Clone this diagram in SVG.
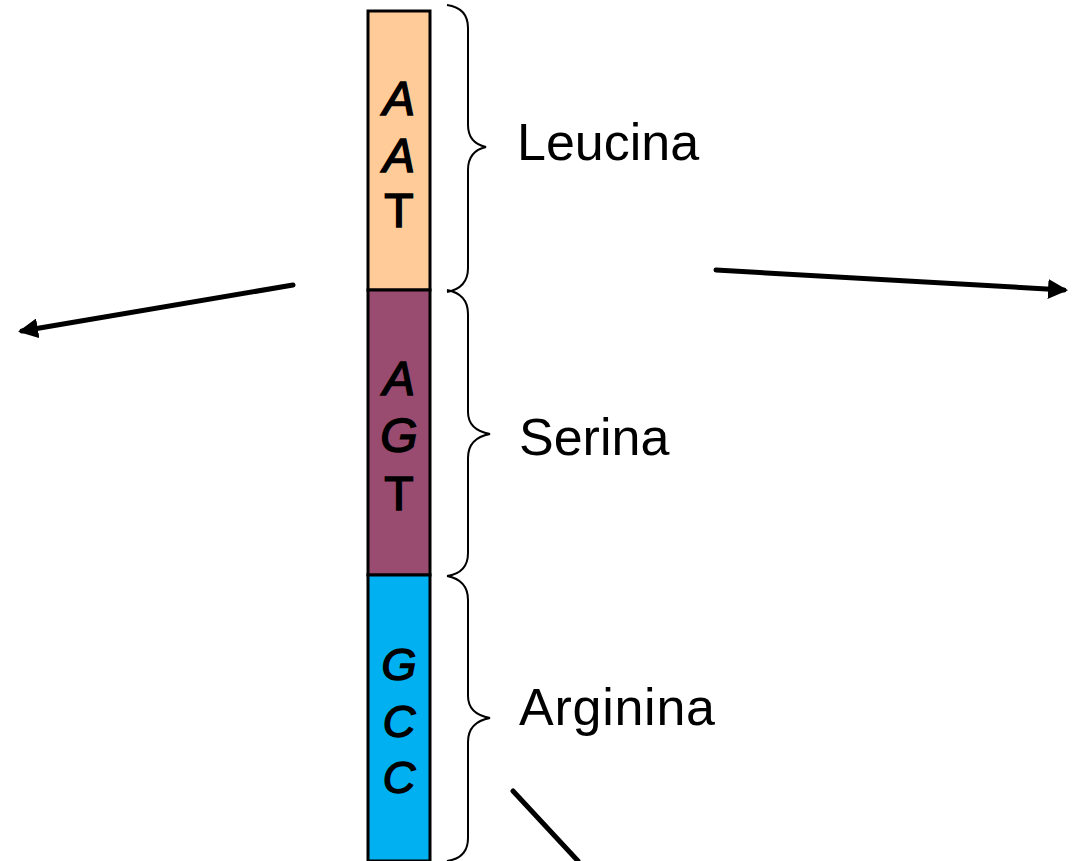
<svg xmlns="http://www.w3.org/2000/svg" width="1074" height="861" viewBox="0 0 1074 861">
<defs>
<style>
.lbl{font-family:"Liberation Sans","DejaVu Sans",sans-serif;font-size:52px;fill:#000}
.base{font-family:"Liberation Sans","DejaVu Sans",sans-serif;font-size:48px;font-style:italic;fill:#000;text-anchor:middle;stroke:#000;stroke-width:1.5}
.up{font-style:normal}
.sm{font-size:45px}
.brace{fill:none;stroke:#000;stroke-width:2}
.seg{stroke:#000;stroke-width:3}
.arr{stroke:#000;stroke-width:5;fill:none;stroke-linecap:round}
</style>
<marker id="ah" viewBox="0 0 10 10" refX="8" refY="5" markerWidth="4" markerHeight="4" orient="auto">
<path d="M0,0 L10,5 L0,10 z" fill="#000"/>
</marker>
</defs>
<rect width="1074" height="861" fill="#fff"/>
<g id="codon-aat">
<rect class="seg" x="368" y="11" width="62" height="279" fill="#FFCC99"/>
<text class="base" x="399" y="115">A</text>
<text class="base" x="399" y="172">A</text>
<text class="base up" x="399" y="227">T</text>
</g>
<g id="codon-agt">
<rect class="seg" x="368" y="290" width="62" height="285" fill="#994C70"/>
<text class="base" x="399" y="395">A</text>
<text class="base" x="399" y="452">G</text>
<text class="base up" x="399" y="510">T</text>
</g>
<g id="codon-gcc">
<rect class="seg" x="368" y="575" width="62" height="286" fill="#00B0F0"/>
<text class="base sm" x="399" y="680">G</text>
<text class="base sm" x="399" y="737">C</text>
<text class="base sm" x="399" y="793">C</text>
</g>
<g id="brace-leucina">
<path class="brace" d="M447,5 Q468,8 468,28 L468,125 Q468,143 486,147 Q468,151 468,170 L468,268 Q468,288 447,292"/>
<text class="lbl" x="517" y="160">Leucina</text>
</g>
<g id="brace-serina">
<path class="brace" d="M447,290 Q468,294 468,314 L468,412 Q468,430 490,434 Q468,438 468,458 L468,553 Q468,573 447,576"/>
<text class="lbl" x="519" y="455">Serina</text>
</g>
<g id="brace-arginina">
<path class="brace" d="M447,576 Q468,580 468,600 L468,696 Q468,714 490,718 Q468,722 468,742 L468,838 Q468,858 447,861"/>
<text class="lbl" x="519" y="725" textLength="196">Arginina</text>
</g>
<g id="connectors">
<line class="arr" x1="293" y1="285" x2="22" y2="331" marker-end="url(#ah)"/>
<line class="arr" x1="716" y1="270" x2="1064" y2="290" marker-end="url(#ah)"/>
<line class="arr" x1="513" y1="791" x2="578" y2="861"/>
</g>
</svg>
